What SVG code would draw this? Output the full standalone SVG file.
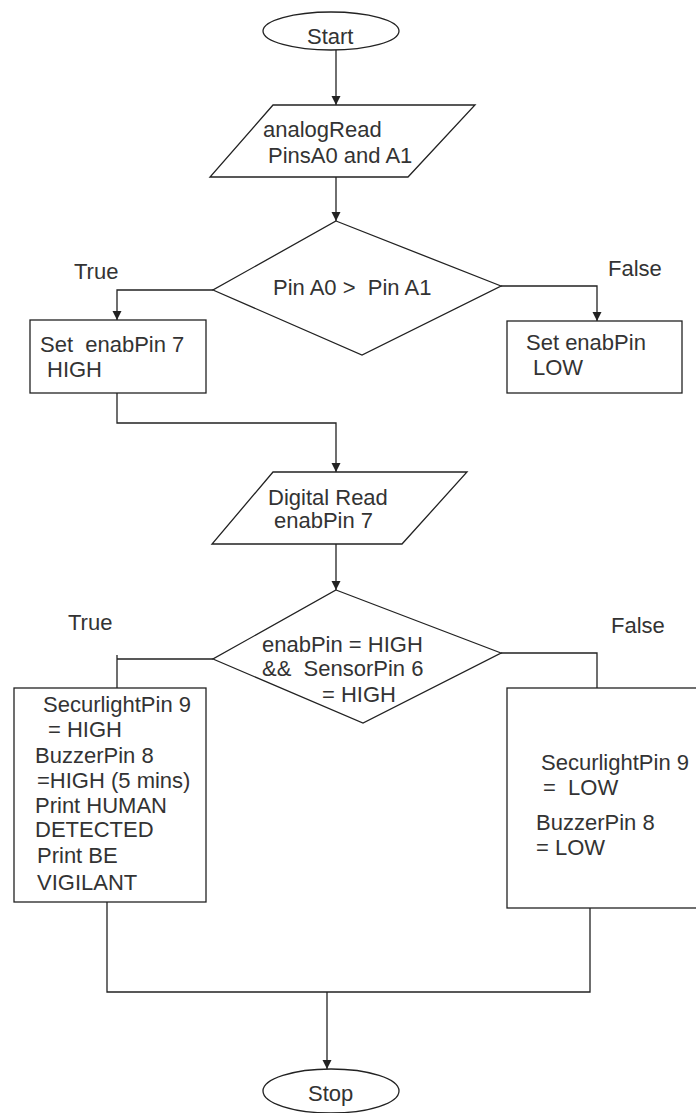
<svg xmlns="http://www.w3.org/2000/svg" width="696" height="1113" viewBox="0 0 696 1113">
<defs>
<marker id="arr" markerUnits="userSpaceOnUse" markerWidth="10" markerHeight="10" refX="9" refY="4.5" orient="auto">
<path d="M0,0 L9,4.5 L0,9 z" fill="#222"/>
</marker>
<style>
.s{fill:#fff;stroke:#222;stroke-width:1.3}
.c{fill:none;stroke:#222;stroke-width:1.3}
.a{marker-end:url(#arr)}
text{font-family:"Liberation Sans",Arial,sans-serif;font-size:22px;fill:#333;white-space:pre}
</style>
</defs>
<rect width="696" height="1113" fill="#fff"/>
<g id="connectors">
<path class="c a" d="M336,50 V105"/>
<path class="c a" d="M336,177 V221"/>
<path class="c a" d="M213,290 H117 V320"/>
<path class="c a" d="M501,286 H597 V321"/>
<path class="c a" d="M117,393 V423 H336 V472"/>
<path class="c a" d="M336,544 V590"/>
<path class="c" d="M213,659 H117 M117,655 V688"/>
<path class="c" d="M501,653 H597 V688"/>
<path class="c" d="M107,902 V992 H590 V908"/>
<path class="c a" d="M327,992 V1069"/>
</g>
<g id="start">
<ellipse class="s" cx="331" cy="31" rx="68" ry="19"/>
<text x="307" y="44">Start</text>
</g>
<g id="read-analog">
<polygon class="s" points="273,105 475,105 408,177 210,177"/>
<text x="263" y="137">analogRead</text>
<text x="268" y="163">PinsA0 and A1</text>
</g>
<g id="decision1">
<polygon class="s" points="336,221 501,286 362,355 213,290"/>
<text x="273" y="295" xml:space="preserve">Pin A0 &gt;  Pin A1</text>
</g>
<g id="label-true1"><text x="74" y="279">True</text></g>
<g id="label-false1"><text x="608" y="276">False</text></g>
<g id="set-high">
<rect class="s" x="30" y="320" width="176" height="73"/>
<text x="40" y="352" xml:space="preserve">Set  enabPin 7</text>
<text x="47" y="377">HIGH</text>
</g>
<g id="set-low">
<rect class="s" x="507" y="321" width="175" height="72"/>
<text x="526" y="350">Set enabPin</text>
<text x="533" y="375">LOW</text>
</g>
<g id="digital-read">
<polygon class="s" points="273,472 467,472 402,544 212,544"/>
<text x="268" y="505">Digital Read</text>
<text x="274" y="528">enabPin 7</text>
</g>
<g id="decision2">
<polygon class="s" points="336,590 501,653 363,723 213,659"/>
<text x="262" y="652">enabPin = HIGH</text>
<text x="262" y="676" xml:space="preserve">&amp;&amp;  SensorPin 6</text>
<text x="322" y="702">= HIGH</text>
</g>
<g id="label-true2"><text x="68" y="630">True</text></g>
<g id="label-false2"><text x="611" y="633">False</text></g>
<g id="alarm-on">
<rect class="s" x="14" y="688" width="192" height="214"/>
<text x="43" y="712">SecurlightPin 9</text>
<text x="48" y="737">= HIGH</text>
<text x="35" y="763">BuzzerPin 8</text>
<text x="37" y="788">=HIGH (5 mins)</text>
<text x="35" y="813">Print HUMAN</text>
<text x="35" y="837">DETECTED</text>
<text x="37" y="863">Print BE</text>
<text x="37" y="890">VIGILANT</text>
</g>
<g id="alarm-off">
<rect class="s" x="507" y="688" width="200" height="220"/>
<text x="541" y="770">SecurlightPin 9</text>
<text x="543" y="795" xml:space="preserve">=  LOW</text>
<text x="536" y="830">BuzzerPin 8</text>
<text x="536" y="855">= LOW</text>
</g>
<g id="stop">
<ellipse class="s" cx="331" cy="1091" rx="68" ry="22"/>
<text x="308" y="1101">Stop</text>
</g>
</svg>
